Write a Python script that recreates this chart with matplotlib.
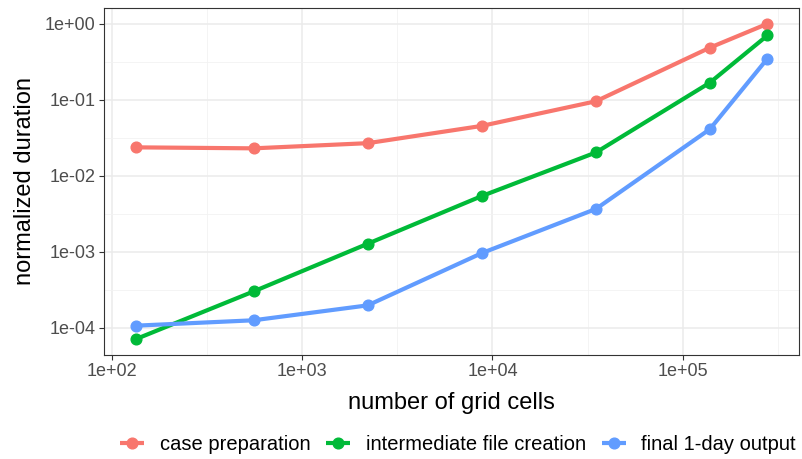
import numpy as np
import matplotlib
matplotlib.use("Agg")
import matplotlib.pyplot as plt
from matplotlib.ticker import FixedLocator, FuncFormatter, NullFormatter

plt.rcParams['font.family'] = ['Liberation Sans', 'DejaVu Sans']

# data
grid_cells = [133, 555, 2210, 8800, 35000, 139000, 279000]
case_prep = [0.0237, 0.0230, 0.0269, 0.0454, 0.0957, 0.485, 1.0]
intermediate = [7.1e-5, 3.02e-4, 1.28e-3, 5.43e-3, 0.0203, 0.168, 0.702]
final_output = [1.07e-4, 1.26e-4, 1.98e-4, 9.64e-4, 3.67e-3, 0.0411, 0.348]

series = ["case preparation", "intermediate file creation", "final 1-day output"]
colors = ["#F8766D", "#00BA38", "#619CFF"]

fig = plt.figure(figsize=(8.02, 4.59), dpi=100)
ax = fig.add_axes([104 / 802, 1 - 355 / 459, 695 / 802, 347 / 459])

for name, vals, c in zip(series, [case_prep, intermediate, final_output], colors):
    ax.plot(grid_cells, vals, color=c, lw=3.0, marker='o', ms=7.7,
            solid_capstyle='butt', label=name, zorder=3)

ax.set_xscale('log')
ax.set_yscale('log')
ax.margins(x=0.05, y=0.05)

xmaj = [1e2, 1e3, 1e4, 1e5]
ymaj = [1e-4, 1e-3, 1e-2, 1e-1, 1e0]
ax.xaxis.set_major_locator(FixedLocator(xmaj))
ax.yaxis.set_major_locator(FixedLocator(ymaj))
ax.xaxis.set_minor_locator(FixedLocator([10 ** (k + 0.5) for k in range(1, 6)]))
ax.yaxis.set_minor_locator(FixedLocator([10 ** (k + 0.5) for k in range(-5, 1)]))
ax.xaxis.set_minor_formatter(NullFormatter())
ax.yaxis.set_minor_formatter(NullFormatter())

def sci(v, pos):
    e = int(round(np.log10(v)))
    return "1e+%02d" % e if e >= 0 else "1e-%02d" % (-e)

ax.xaxis.set_major_formatter(FuncFormatter(sci))
ax.yaxis.set_major_formatter(FuncFormatter(sci))

ax.grid(True, which='major', color='#EBEBEB', lw=1.1, zorder=0)
ax.grid(True, which='minor', color='#F2F2F2', lw=0.6, zorder=0)
ax.set_axisbelow(True)
ax.tick_params(which='major', length=3.5, width=0.8, color='#333333',
               labelcolor='#4D4D4D', labelsize=13, pad=2.5)
ax.tick_params(which='minor', length=0)
for s in ax.spines.values():
    s.set_color('#333333')
    s.set_linewidth(0.8)

ax.set_xlabel("number of grid cells", fontsize=17)
ax.set_ylabel("normalized duration", fontsize=17)
ax.xaxis.set_label_coords(0.5, -0.106)
ax.yaxis.set_label_coords(-0.098, 0.5)

fig.legend(*ax.get_legend_handles_labels(), loc='center',
           bbox_to_anchor=(458 / 802, 1 - 445 / 459), ncol=3,
           frameon=False, fontsize=14.5, handlelength=1.2, handletextpad=0.75,
           columnspacing=0.8, borderaxespad=0, borderpad=0)

fig.savefig("out.png", dpi=100)
